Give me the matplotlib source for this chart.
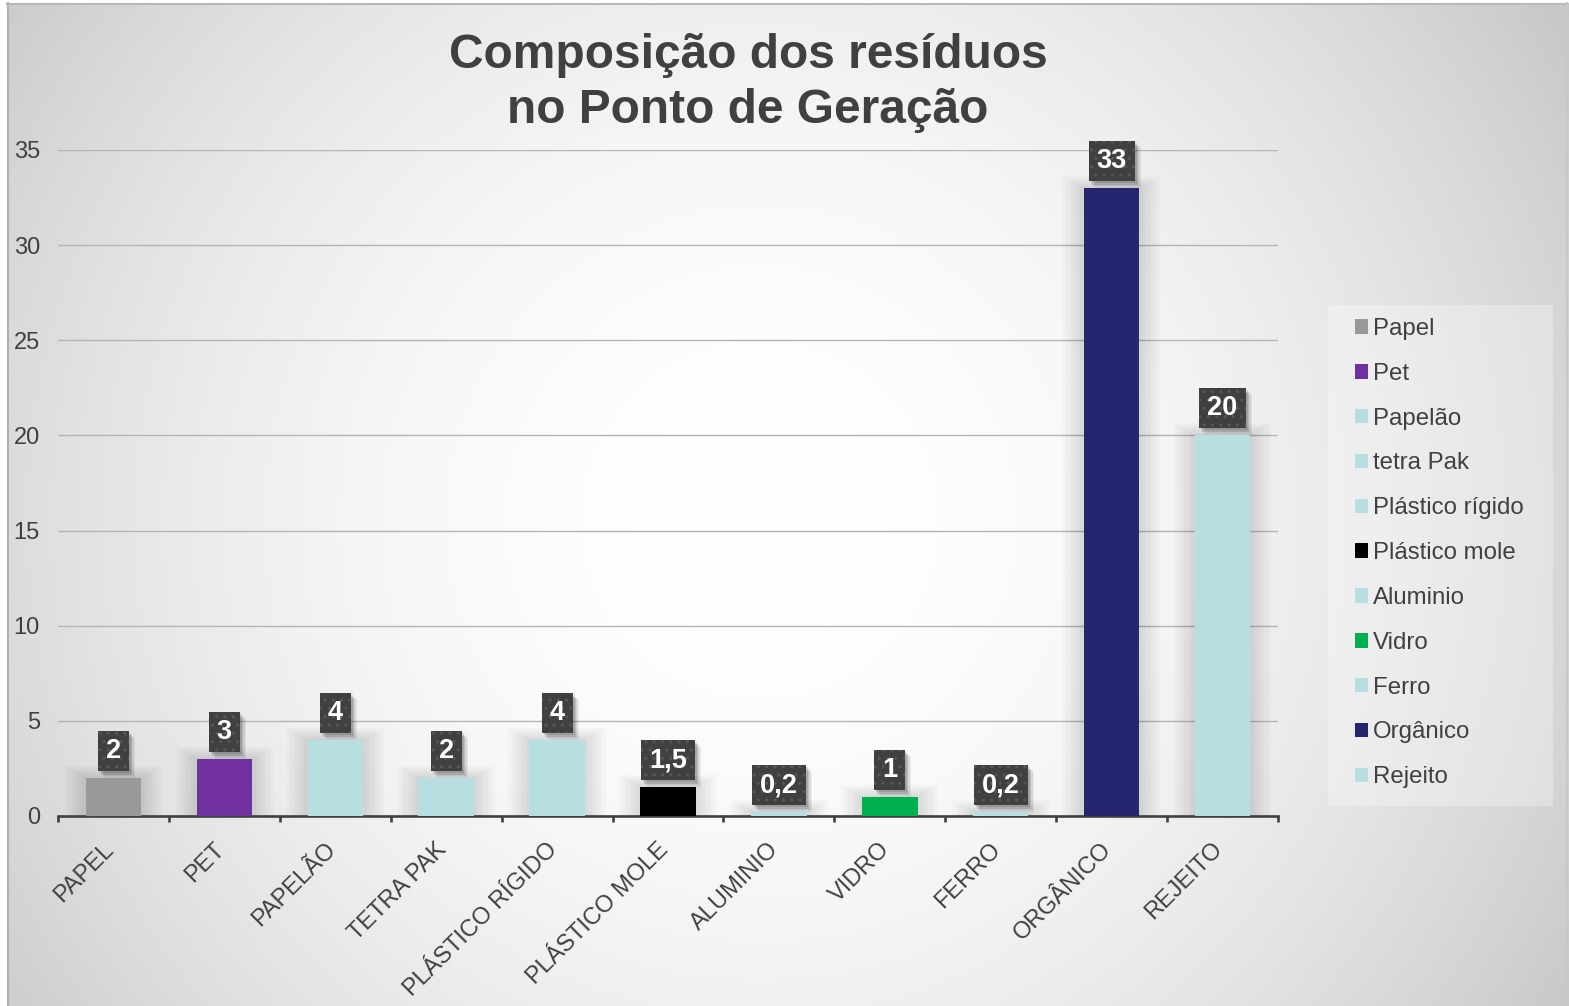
import numpy as np
import matplotlib
matplotlib.use('Agg')
import matplotlib.pyplot as plt
from matplotlib.patches import Rectangle
from matplotlib.transforms import ScaledTranslation, IdentityTransform

# ---------------- data ----------------
categories = ['PAPEL', 'PET', 'PAPELÃO', 'TETRA PAK', 'PLÁSTICO RÍGIDO', 'PLÁSTICO MOLE',
              'ALUMINIO', 'VIDRO', 'FERRO', 'ORGÂNICO', 'REJEITO']
legend_names = ['Papel', 'Pet', 'Papelão', 'tetra Pak', 'Plástico rígido', 'Plástico mole',
                'Aluminio', 'Vidro', 'Ferro', 'Orgânico', 'Rejeito']
values = [2, 3, 4, 2, 4, 1.5, 0.2, 1, 0.2, 33, 20]
value_labels = ['2', '3', '4', '2', '4', '1,5', '0,2', '1', '0,2', '33', '20']
colors = ['#999999', '#7030a0', '#b7dfe1', '#b7dfe1', '#b7dfe1', '#000000',
          '#b7dfe1', '#00b050', '#b7dfe1', '#252570', '#b7dfe1']
yticks = [0, 5, 10, 15, 20, 25, 30, 35]
title_lines = ['Composição dos resíduos', 'no Ponto de Geração']

plt.rcParams['font.family'] = ['Liberation Sans', 'DejaVu Sans']
TXT = '#404040'

W, H = 1569, 1006
fig = plt.figure(figsize=(W / 100, H / 100), dpi=100)

# ---------------- background ----------------
bg = fig.add_axes([0, 0, 1, 1], zorder=-10)
yy, xx = np.mgrid[0:H, 0:W]
d = np.hypot(xx - 760, yy - 520)
v = np.clip(1 - 0.22 * (d / 954) ** 2, 0.74, 1)
v[:3, :] = 1
v[:, :7] = 1
img = np.dstack([v, v, v])
bg.imshow(img, aspect='auto', interpolation='bilinear', extent=(0, W, H, 0))
bg.set_xlim(0, W)
bg.set_ylim(H, 0)
bg.axis('off')
bg.plot([7.5, 7.5], [3, H], color='#b0b0b0', lw=1.5)
bg.plot([7, 1567], [3.5, 3.5], color='#b8b8b8', lw=1.5)
bg.plot([1567, 1567], [3, H], color='#c8c8c8', lw=1.5)
# legend background
bg.add_patch(Rectangle((1328, 305), 225, 501, fc='white', ec='none', alpha=0.3))

# ---------------- main axes ----------------
ax = fig.add_axes([58 / W, 1 - 816 / H, (1278 - 58) / W, (816 - 150) / H])
ax.set_facecolor('none')
ax.set_xlim(-0.5, 10.5)
ax.set_ylim(0, 35)

px_x = 11 / (1278 - 58)
px_y = 35 / (816 - 150)

bars = []
for i, (val, c, nm) in enumerate(zip(values, colors, legend_names)):
    # soft shadow
    for k in range(1, 7):
        ax.add_patch(Rectangle((i - 0.25 - k * 3.5 * px_x, 0), 0.5 + 2 * k * 3.5 * px_x,
                               val + k * 2 * px_y, fc='black', ec='none', alpha=0.018, zorder=2))
    b = ax.bar(i, val, width=0.5, color=c, label=nm, zorder=3)
    bars.append(b)

ax.set_yticks(yticks)
ax.set_yticklabels([str(t) for t in yticks])
ax.grid(axis='y', color='#b5b5b5', lw=1.0)
ax.set_axisbelow(True)
for s in ['left', 'right', 'top']:
    ax.spines[s].set_visible(False)
ax.spines['bottom'].set_color(TXT)
ax.spines['bottom'].set_linewidth(1.9)
ax.tick_params(axis='y', length=0, pad=13, labelsize=17, labelcolor=TXT)

ax.set_xticks(range(len(categories)))
ax.set_xticklabels(categories)
ax.set_xticks(np.arange(-0.5, 11, 1), minor=True)
ax.tick_params(axis='x', which='major', length=0, pad=16, labelsize=17, labelcolor=TXT)
ax.tick_params(axis='x', which='minor', length=4.5, width=1.9, color=TXT, direction='out')
for lbl in ax.get_xticklabels():
    lbl.set_rotation(45)
    lbl.set_ha('right')
    lbl.set_va('top')
    lbl.set_rotation_mode('anchor')
    lbl.set_transform(lbl.get_transform() + ScaledTranslation(-11 / 100, 0, fig.dpi_scale_trans))

# ---------------- title ----------------
fig.text(748 / W, 1 - 68 / H, title_lines[0], ha='center', va='baseline',
         fontsize=34.5, fontweight='bold', color=TXT)
fig.text(748 / W, 1 - 123 / H, title_lines[1], ha='center', va='baseline',
         fontsize=34.5, fontweight='bold', color=TXT)

# ---------------- legend ----------------
leg = fig.legend([b[0] for b in bars], legend_names, loc='upper left',
                 bbox_to_anchor=(1355 / W, 1 - 318 / H), frameon=False,
                 fontsize=17.3, labelcolor=TXT, borderpad=0, borderaxespad=0,
                 labelspacing=0.95, handlelength=0.55, handleheight=0.55,
                 handletextpad=0.2)

# ---------------- data labels ----------------
fig.canvas.draw()
renderer = fig.canvas.get_renderer()
ident = IdentityTransform()
for i, (val, lab) in enumerate(zip(values, value_labels)):
    xd, yd = ax.transData.transform((i, val))
    cy = yd + 7 + 20
    t = ax.text(xd, cy, lab, transform=ident, ha='center', va='center', color='white',
                fontsize=19.5, fontweight='bold', zorder=8, clip_on=False)
    bb = t.get_window_extent(renderer)
    w = bb.width + 16
    for (ox, oy, a) in [(2, -2, 0.12), (3, -4, 0.12), (5, -5, 0.08), (6, -7, 0.05)]:
        ax.add_patch(Rectangle((xd - w / 2 + ox, cy - 20 + oy), w, 40, transform=ident,
                               fc='black', ec='none', alpha=a, zorder=6, clip_on=False))
    ax.add_patch(Rectangle((xd - w / 2, cy - 20), w, 40, transform=ident,
                           fc='#404040', ec='#575757', lw=0, hatch='..', zorder=7, clip_on=False))

fig.savefig('out.png', dpi=100)
